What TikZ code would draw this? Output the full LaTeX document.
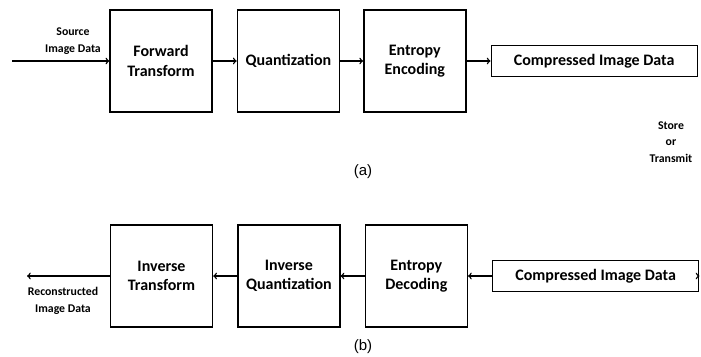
\documentclass[tikz,border=0pt]{standalone}
\usepackage{fontspec}
\setmainfont{Carlito}
\newfontfamily\arialfont{Liberation Sans}
\usetikzlibrary{positioning}

\begin{document}
\begin{tikzpicture}
            [x=1pt, y=-1pt, line width=1.4pt,
            font=\bfseries\fontsize{16}{19.5}\selectfont,
            block/.style={draw=black, minimum width=102pt, minimum height=102pt, inner sep=0pt, align=center},
            datablock/.style={draw=black, minimum width=206pt, minimum height=31pt, inner sep=0pt},
            sidetext/.style={font=\bfseries\fontsize{11.8}{16.5}\selectfont, align=center, inner sep=0pt},
            caption/.style={font=\arialfont\fontsize{15}{18}\selectfont, inner sep=0pt},
            flow/.style={->}]
            \useasboundingbox (0,0) rectangle (701,356);
            % (a) compression
            \node [block] (fwd) at (161,61) {Forward\\Transform};
            \node [block, right=24pt of fwd] (quant) {Quantization};
            \node [block, right=23pt of quant] (enc) {Entropy\\Encoding};
            \node [datablock, right=24pt of enc] (cdata) {Compressed Image Data};
            \coordinate (src) at (12,61);
            \coordinate (store) at (697,61);
            \node [sidetext] (srclabel) at (73,41) {Source\\Image Data};
            \node [sidetext] (storelabel) at (671,142) {Store\\or\\Transmit};
            \node [caption] (capa) at (363,172) {(a)};
            \draw [flow] (src) -- (fwd);
            \draw [flow] (fwd) -- (quant);
            \draw [flow] (quant) -- (enc);
            \draw [flow] (enc) -- (cdata);
            \draw (cdata) -- (store);
            % (b) decompression
            \node [block] (itrans) at (161.5,276) {Inverse\\Transform};
            \node [block, right=24pt of itrans] (iquant) {Inverse\\Quantization};
            \node [block, right=24pt of iquant] (dec) {Entropy\\Decoding};
            \node [datablock, right=24pt of dec] (rdata) {Compressed Image Data};
            \coordinate (recv) at (698,276);
            \coordinate (out) at (27,276);
            \node [sidetext] (outlabel) at (63,301) {Reconstructed\\Image Data};
            \node [caption] (capb) at (363,347) {(b)};
            \draw [flow] (recv) -- (rdata);
            \draw [flow] (rdata) -- (dec);
            \draw [flow] (dec) -- (iquant);
            \draw [flow] (iquant) -- (itrans);
            \draw [flow] (itrans) -- (out);
\end{tikzpicture}
\end{document}
